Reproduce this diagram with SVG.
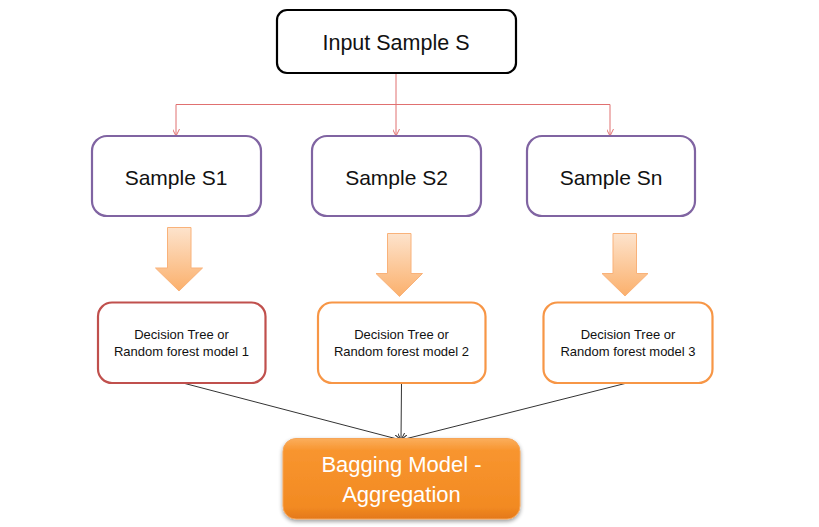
<svg xmlns="http://www.w3.org/2000/svg" width="819" height="527" viewBox="0 0 819 527">
<defs>
<linearGradient id="blk" x1="0" y1="0" x2="0" y2="1">
<stop offset="0" stop-color="#fde3cc"/>
<stop offset="1" stop-color="#fbb06c"/>
</linearGradient>
<linearGradient id="bag" x1="0" y1="0" x2="0" y2="1">
<stop offset="0" stop-color="#fbae5c"/>
<stop offset="0.15" stop-color="#f8952f"/>
<stop offset="0.85" stop-color="#f28a22"/>
<stop offset="1" stop-color="#e47818"/>
</linearGradient>
<filter id="sh" x="-10%" y="-10%" width="120%" height="130%">
<feGaussianBlur in="SourceAlpha" stdDeviation="2"/>
<feOffset dy="2" result="b"/>
<feComponentTransfer><feFuncA type="linear" slope="0.4"/></feComponentTransfer>
<feMerge><feMergeNode/><feMergeNode in="SourceGraphic"/></feMerge>
</filter>
<marker id="ra" viewBox="0 0 10 10" refX="10" refY="5" markerWidth="7" markerHeight="7" orient="auto" markerUnits="userSpaceOnUse">
<path d="M0,0 L10,5 L0,10" fill="none" stroke="#e07070" stroke-width="1.4"/>
</marker>
<marker id="ka" viewBox="0 0 10 10" refX="10" refY="5" markerWidth="7" markerHeight="7" orient="auto" markerUnits="userSpaceOnUse">
<path d="M0,0 L10,5 L0,10" fill="none" stroke="#222" stroke-width="1.4"/>
</marker>
</defs>
<style>
.t{font-family:"Liberation Sans",Arial,sans-serif;text-anchor:middle;fill:#111}
.s{fill:#fff;stroke:#8064a2;stroke-width:2.2}
.d{fill:#fff;stroke-width:2.2}
.blk{fill:url(#blk);stroke:#f9b27a;stroke-width:1}
.rc{fill:none;stroke:#e07070;stroke-width:1}
.kc{fill:none;stroke:#333;stroke-width:1}
</style>
<rect width="819" height="527" fill="#fff"/>

<g id="connectors">
<path class="rc" d="M396,73 V104.5 M176,104.5 H610"/>
<path class="rc" d="M396,104.5 V136" marker-end="url(#ra)"/>
<path class="rc" d="M176,104.5 V136" marker-end="url(#ra)"/>
<path class="rc" d="M610,104.5 V136" marker-end="url(#ra)"/>
<path class="kc" d="M183,383 L401,440" marker-end="url(#ka)"/>
<path class="kc" d="M401.5,383 L401,440" marker-end="url(#ka)"/>
<path class="kc" d="M627,383 L401,440" marker-end="url(#ka)"/>
</g>

<g id="block-arrows">
<path class="blk" d="M167.5,227.5 H191 V268 H202.5 L179,291 L155.5,268 H167.5 Z"/>
<path class="blk" d="M387.5,233.5 H411 V273.5 H422.5 L399.5,296.5 L376,273.5 H387.5 Z"/>
<path class="blk" d="M613,233.5 H636.5 V273.5 H648 L625,296 L602,273.5 H613 Z"/>
</g>

<g id="input">
<rect x="277" y="10" width="239" height="63" rx="10" fill="#fff" stroke="#000" stroke-width="2.2"/>
<text class="t" x="396" y="50" font-size="21.5">Input Sample S</text>
</g>

<g id="s1">
<rect class="s" x="92" y="136" width="169" height="80" rx="15"/>
<text class="t" x="176" y="184.5" font-size="21">Sample S1</text>
</g>
<g id="s2">
<rect class="s" x="312" y="136" width="169" height="80" rx="15"/>
<text class="t" x="396.5" y="184.5" font-size="21">Sample S2</text>
</g>
<g id="sn">
<rect class="s" x="527" y="136" width="168" height="80" rx="15"/>
<text class="t" x="611" y="184.5" font-size="21">Sample Sn</text>
</g>

<g id="m1">
<rect class="d" x="98" y="302.5" width="167.5" height="80.5" rx="14" stroke="#c0504d"/>
<text class="t" x="181.5" y="338.5" font-size="13">Decision Tree or</text>
<text class="t" x="181.5" y="356" font-size="13">Random forest model 1</text>
</g>
<g id="m2">
<rect class="d" x="318" y="302.5" width="167.5" height="80.5" rx="14" stroke="#f79646"/>
<text class="t" x="401.5" y="338.5" font-size="13">Decision Tree or</text>
<text class="t" x="401.5" y="356" font-size="13">Random forest model 2</text>
</g>
<g id="m3">
<rect class="d" x="543.5" y="302.5" width="169" height="80.5" rx="14" stroke="#f79646"/>
<text class="t" x="628" y="338.5" font-size="13">Decision Tree or</text>
<text class="t" x="628" y="356" font-size="13">Random forest model 3</text>
</g>

<g id="bagging">
<rect x="283" y="438.5" width="237" height="80.5" rx="13" fill="url(#bag)" stroke="#f6a558" stroke-width="1" filter="url(#sh)"/>
<text class="t" x="401.5" y="472" font-size="22" style="fill:#fff">Bagging Model -</text>
<text class="t" x="401.5" y="502" font-size="22" style="fill:#fff">Aggregation</text>
</g>
</svg>
